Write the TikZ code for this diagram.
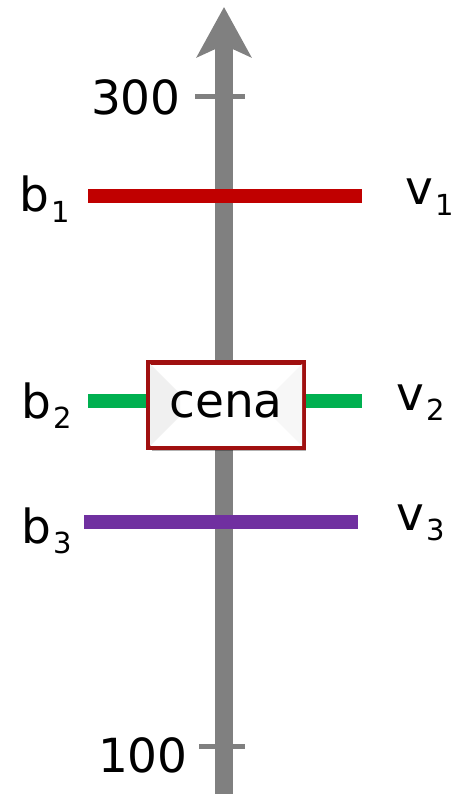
\documentclass[tikz,border=0pt]{standalone}
\usepackage{fontspec}
\setmainfont{DejaVu Sans}
\usetikzlibrary{arrows.meta,shadows}
\definecolor{axisgray}{HTML}{808080}
\definecolor{lred}{HTML}{C00000}
\definecolor{lgreen}{HTML}{00B050}
\definecolor{lpurple}{HTML}{7030A0}
\definecolor{boxred}{HTML}{A01010}
\newcommand{\lbl}[2]{#1\kern2pt\raisebox{-10.5pt}{\fontsize{29}{30}\selectfont #2}}
\begin{document}
\begin{tikzpicture}[x=1pt,y=-1pt,
  txt/.style={font=\fontsize{47}{50}\selectfont, inner sep=0pt},
  bar/.style={line width=14pt},
  tick/.style={axisgray, line width=5pt},
  cenabox/.style={draw=boxred, line width=3pt, fill=white, minimum width=154pt, minimum height=84pt, inner sep=0pt,
    drop shadow={shadow xshift=3pt, shadow yshift=-4pt, opacity=0.3, fill=black}}]
\useasboundingbox (0,0) rectangle (454,794);
% coordinates
\coordinate (axb) at (224,794);
\coordinate (axt) at (224,7);
\coordinate (t3a) at (195,97); \coordinate (t3b) at (245,97);
\coordinate (t1a) at (199,746); \coordinate (t1b) at (245,746);
\coordinate (r1) at (88,196); \coordinate (r2) at (362,196);
\coordinate (g1) at (88,401); \coordinate (g2) at (362,401);
\coordinate (p1) at (84,522); \coordinate (p2) at (358,522);
% axis
\draw[axisgray, line width=18pt, -{Stealth[width=54pt,length=50pt,inset=12pt]}] (axb) -- (axt);
\draw[tick] (t3a) -- (t3b);
\draw[tick] (t1a) -- (t1b);
\node[txt, anchor=base east] (l300) at (181,115) {300};
\node[txt, anchor=base east] (l100) at (188,772) {100};
% bars
\draw[bar, lred] (r1) -- (r2);
\draw[bar, lgreen] (g1) -- (g2);
\draw[bar, lpurple] (p1) -- (p2);
% labels
\node[txt, anchor=base west] (b1) at (19,212) {\lbl{b}{1}};
\node[txt, anchor=base west] (v1) at (405,205) {\lbl{v}{1}};
\node[txt, anchor=base west] (b2) at (21,418) {\lbl{b}{2}};
\node[txt, anchor=base west] (v2) at (396,410) {\lbl{v}{2}};
\node[txt, anchor=base west] (b3) at (21,543) {\lbl{b}{3}};
\node[txt, anchor=base west] (v3) at (396,530) {\lbl{v}{3}};
% box
\node[cenabox] (cena) at (226,405) {};
\fill[gray!12] (150,364) -- (180,394) -- (180,416) -- (150,446) -- cycle;
\fill[gray!6] (302,364) -- (272,394) -- (272,416) -- (302,446) -- cycle;
\node[txt] (cenat) at (226,405) {cena};
\draw[boxred, line width=3pt] (cena.south west) rectangle (cena.north east);
\end{tikzpicture}
\end{document}
